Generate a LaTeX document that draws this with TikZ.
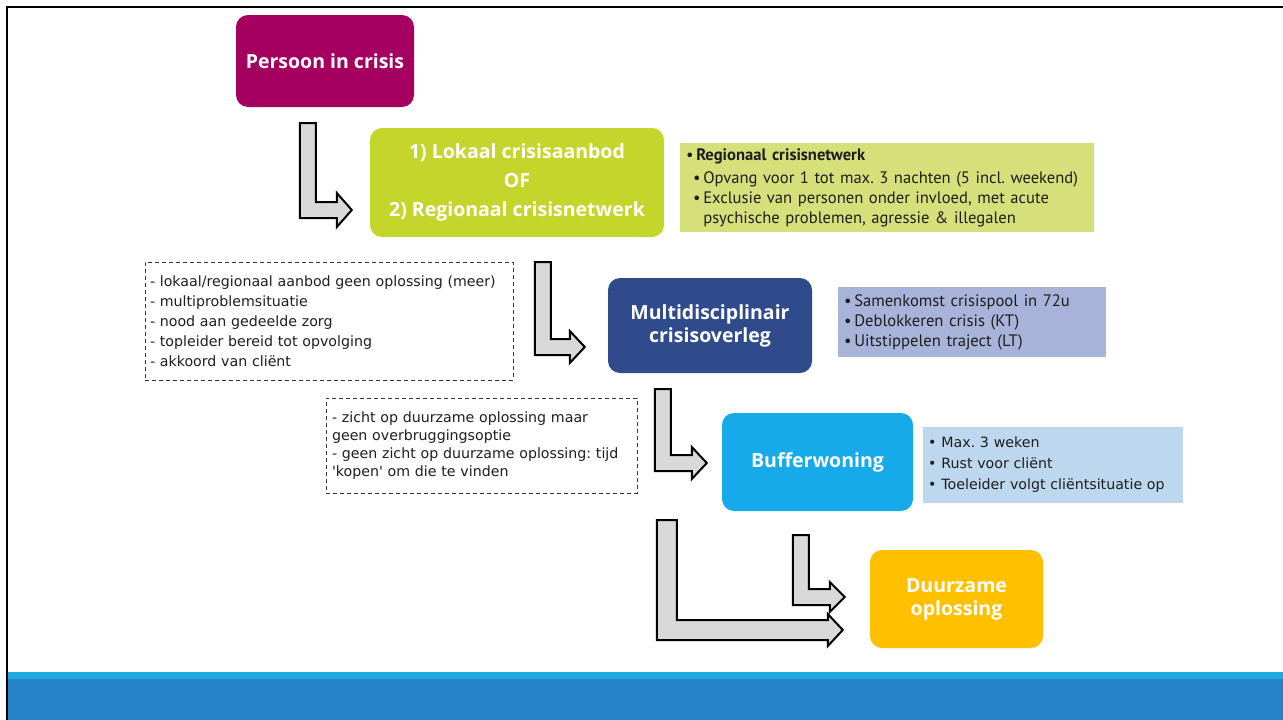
\documentclass[tikz,border=0pt]{standalone}
\usepackage{fontspec}
\setmainfont{Open Sans}
\newfontfamily\headfont{Open Sans}
\newfontfamily\infofont{PT Sans}
\newfontfamily\dashfont{DejaVu Sans}
\usetikzlibrary{calc}
\definecolor{cmagenta}{RGB}{165,0,95}
\definecolor{cgreen}{RGB}{196,213,44}
\definecolor{cinfoone}{RGB}{214,224,122}
\definecolor{cnavy}{RGB}{47,75,140}
\definecolor{cinfotwo}{RGB}{167,179,216}
\definecolor{ccyan}{RGB}{22,170,235}
\definecolor{cinfothree}{RGB}{189,215,238}
\definecolor{cgold}{RGB}{255,192,0}
\definecolor{carrow}{RGB}{217,217,217}
\definecolor{cbarlight}{RGB}{30,170,225}
\definecolor{cbardark}{RGB}{38,130,198}
\definecolor{ctext}{RGB}{30,30,30}
\tikzset{
  mainbox/.style={rounded corners=12pt, inner sep=0pt, text=white, align=center,
    font=\headfont\bfseries\fontsize{19.5}{23}\selectfont},
  infobox/.style={inner sep=0pt, text=ctext, align=left,
    font=\infofont\frenchspacing\fontsize{16.6}{20}\selectfont},
  dashbox/.style={draw=black!80, line width=0.9pt, dash pattern=on 4pt off 3pt,
    inner sep=0pt, text=ctext, align=left, font=\dashfont\frenchspacing\fontsize{14.2}{20}\selectfont},
  blockarrow/.style={draw=black, line width=2pt, fill=carrow, line join=miter}
}
\newcommand{\blockL}[4]{%
  \draw[blockarrow] let \p1=(#1), \p2=(#2) in
    (\x1,\y1) -- (\x1+#3pt,\y1) -- (\x1+#3pt,\y2+#3pt/2) -- (\x2-15pt,\y2+#3pt/2)
    -- (\x2-15pt,\y2+#4pt) -- (\x2,\y2) -- (\x2-15pt,\y2-#4pt) -- (\x2-15pt,\y2-#3pt/2)
    -- (\x1,\y2-#3pt/2) -- cycle;}
\begin{document}
\begin{tikzpicture}[x=1pt,y=-1pt]
\useasboundingbox (0,0) rectangle (1283,720);
\fill[white] (0,0) rectangle (1283,720);
% frame and bottom bar
\draw[line width=2.5pt] (7,720) -- (7,7) -- (1283,7);
\fill[cbarlight] (8,672) rectangle (1283,679);
\fill[cbardark] (8,679) rectangle (1283,720);

% main boxes
\node[mainbox, fill=cmagenta, minimum width=178pt, minimum height=92pt] (persoon) at (325,61) {Persoon in crisis};
\node[mainbox, fill=cgreen, minimum width=294pt, minimum height=109pt, font=\headfont\bfseries\fontsize{19.5}{29}\selectfont] (lokaal) at (517,182.5) {1) Lokaal crisisaanbod\\OF\\2) Regionaal crisisnetwerk};
\node[mainbox, fill=cnavy, minimum width=204pt, minimum height=95pt] (multi) at (710,325.5) {Multidisciplinair\\crisisoverleg};
\node[mainbox, fill=ccyan, minimum width=191pt, minimum height=98pt] (buffer) at (817.5,462) {Bufferwoning};
\node[mainbox, fill=cgold, minimum width=173pt, minimum height=98pt] (duur) at (956.5,599) {Duurzame\\oplossing};

% info boxes
\node[infobox, fill=cinfoone, minimum width=414pt, minimum height=89pt, text width=402pt] (info1) at (887,187.5)
 {\textbullet\,\textbf{Regionaal crisisnetwerk}\\[3pt]
  \hspace*{7pt}\textbullet\,Opvang voor 1 tot max. 3 nachten (5 incl. weekend)\\
  \hspace*{7pt}\textbullet\,Exclusie van personen onder invloed, met acute\\
  \hspace*{7pt}\phantom{\textbullet\,}psychische problemen, agressie \& illegalen};
\node[infobox, fill=cinfotwo, minimum width=268pt, minimum height=70pt, text width=256pt] (info2) at (972,322)
 {\textbullet\,Samenkomst crisispool in 72u\\
  \textbullet\,Deblokkeren crisis (KT)\\
  \textbullet\,Uitstippelen traject (LT)};
\node[infobox, fill=cinfothree, minimum width=260pt, minimum height=76pt, text width=250pt,
  font=\dashfont\frenchspacing\fontsize{14.2}{21}\selectfont] (info3) at (1053,465)
 {\textbullet\hspace{5pt}Max. 3 weken\\
  \textbullet\hspace{5pt}Rust voor cliënt\\
  \textbullet\hspace{5pt}Toeleider volgt cliëntsituatie op};

% dashed condition boxes
\node[dashbox, minimum width=368pt, minimum height=118pt, text width=358pt] (cond1) at (329,321)
 {- lokaal/regionaal aanbod geen oplossing (meer)\\
  - multiproblemsituatie\\
  - nood aan gedeelde zorg\\
  - topleider bereid tot opvolging\\
  - akkoord van cliënt};
\node[dashbox, minimum width=311pt, minimum height=95pt, text width=299pt, font=\dashfont\frenchspacing\fontsize{14.2}{18}\selectfont] (cond2) at (481.5,445.5)
 {- zicht op duurzame oplossing maar\\
  geen overbruggingsoptie\\
  - geen zicht op duurzame oplossing: tijd\\
  'kopen' om die te vinden};

% block arrows
\coordinate (a1s) at ($(persoon.south west)+(64,16)$);
\coordinate (a1t) at ($(lokaal.west)+(-18,27.5)$);
\blockL{a1s}{a1t}{16}{17}
\coordinate (a2s) at ($(lokaal.south west)+(165,25)$);
\coordinate (a2t) at ($(multi.west)+(-23,21.5)$);
\blockL{a2s}{a2t}{16}{16}
\coordinate (a3s) at ($(multi.south west)+(47,16)$);
\coordinate (a3t) at ($(buffer.west)+(-15,1)$);
\blockL{a3s}{a3t}{16}{16}
\coordinate (a4s) at ($(buffer.south west)+(71,24)$);
\coordinate (a4t) at ($(duur.west)+(-25,-2)$);
\blockL{a4s}{a4t}{16}{15}
\coordinate (a5s) at ($(buffer.south west)+(-65,9)$);
\coordinate (a5t) at ($(duur.west)+(-27,31)$);
\blockL{a5s}{a5t}{20}{16}
\end{tikzpicture}
\end{document}
